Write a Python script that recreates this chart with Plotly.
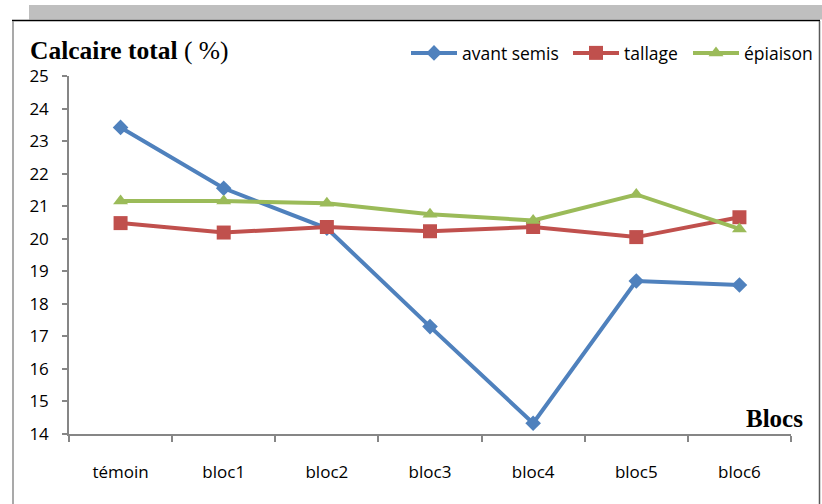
import plotly.graph_objects as go

categories = ["témoin", "bloc1", "bloc2", "bloc3", "bloc4", "bloc5", "bloc6"]
avant_semis = [23.42, 21.55, 20.32, 17.30, 14.33, 18.70, 18.58]
tallage = [20.48, 20.19, 20.36, 20.23, 20.36, 20.05, 20.66]
epiaison = [21.16, 21.16, 21.09, 20.75, 20.56, 21.36, 20.30]
series_names = ["avant semis", "tallage", "épiaison"]
y_ticks = list(range(14, 26))

W, H = 822, 504
L, R, T, B = 69, 31, 76, 70
PW, PH = W - L - R, H - T - B


def px2x(px):
    return (px - L) / PW


def px2y(py):
    return (H - B - py) / PH


fig = go.Figure()
styles = [
    (avant_semis, "#4F81BD", "diamond", 12, "legend", 406),
    (tallage, "#C0504D", "square", 14, "legend2", 568),
    (epiaison, "#9BBB59", "triangle-up", 13, "legend3", 688),
]
legend_font = dict(family="Open Sans", size=17.5, color="black")
legends = {}
for name, (vals, col, sym, sz, lg, lx) in zip(series_names, styles):
    fig.add_trace(go.Scatter(
        x=categories, y=vals, name=name, mode="lines+markers",
        line=dict(color=col, width=4),
        marker=dict(symbol=sym, size=sz, color=col, line=dict(width=0)),
        legend=lg,
    ))
    legends[lg] = dict(
        orientation="h", x=px2x(lx), xanchor="left", y=px2y(53), yanchor="middle",
        font=legend_font, bgcolor="rgba(0,0,0,0)", itemwidth=46,
    )

axis_col = "#868686"
fig.update_layout(
    width=W, height=H,
    margin=dict(l=L, r=R, t=T, b=B, autoexpand=False),
    paper_bgcolor="white", plot_bgcolor="white",
    font=dict(family="Open Sans", size=17, color="black"),
    showlegend=True,
    **legends,
    xaxis=dict(
        type="category", range=[-0.5, 6.5], showgrid=False, zeroline=False,
        showline=True, linecolor=axis_col, linewidth=1.5,
        ticks="outside", ticklen=6, tickcolor=axis_col, tickwidth=1.5,
        tickson="boundaries", ticklabelstandoff=22, automargin=False,
        tickfont=dict(family="Open Sans", size=17, color="black"),
    ),
    yaxis=dict(
        range=[14, 25], tickvals=y_ticks, showgrid=False, zeroline=False,
        showline=True, linecolor=axis_col, linewidth=1.5,
        ticks="outside", ticklen=5, tickcolor=axis_col, tickwidth=1.5,
        ticklabelstandoff=10, automargin=False,
        tickfont=dict(family="Open Sans", size=17, color="black"),
    ),
    shapes=[
        dict(type="rect", xref="paper", yref="paper",
             x0=px2x(29), x1=px2x(822), y0=px2y(19.5), y1=px2y(5),
             fillcolor="#BFBFBF", line=dict(width=0), layer="below"),
        dict(type="line", xref="paper", yref="paper",
             x0=px2x(12), x1=px2x(820), y0=px2y(20.5), y1=px2y(20.5),
             line=dict(color="black", width=1.5)),
        dict(type="line", xref="paper", yref="paper",
             x0=px2x(13), x1=px2x(13), y0=px2y(21), y1=px2y(504),
             line=dict(color="#8C8C8C", width=1.5)),
        dict(type="line", xref="paper", yref="paper",
             x0=px2x(819.5), x1=px2x(819.5), y0=px2y(21), y1=px2y(504),
             line=dict(color="#5A5A5A", width=1.5)),
    ],
    annotations=[
        dict(text="<b>Calcaire total</b> ( %)", xref="paper", yref="paper",
             x=px2x(28), y=px2y(50.5), xanchor="left", yanchor="middle",
             showarrow=False, font=dict(family="Liberation Serif", size=25.5, color="black")),
        dict(text="<b>Blocs</b>", xref="paper", yref="paper",
             x=px2x(805), y=px2y(418), xanchor="right", yanchor="middle",
             showarrow=False, font=dict(family="Liberation Serif", size=25, color="black")),
    ],
)

fig.write_html("out.html", config={"displayModeBar": False},
               post_script="document.body.style.margin='0';")
